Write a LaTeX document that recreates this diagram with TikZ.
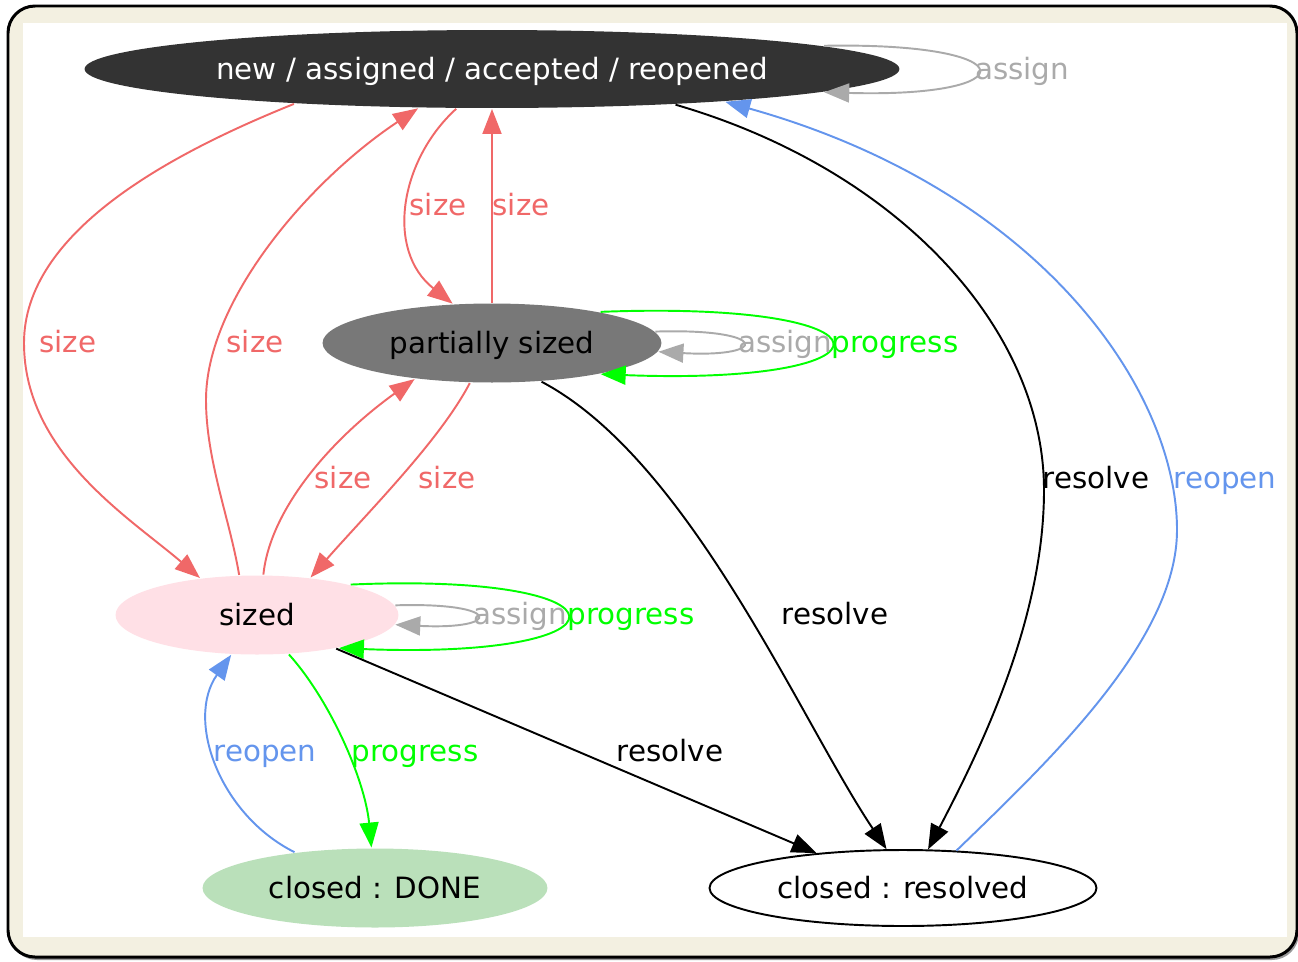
\documentclass[tikz,border=0pt]{standalone}
\usepackage{fontspec}
\setmainfont{DejaVu Sans}
\usetikzlibrary{shapes.geometric, arrows.meta}

\definecolor{framebeige}{RGB}{243,240,225}
\definecolor{sizered}{RGB}{240,104,104}
\definecolor{assigngrey}{RGB}{170,170,170}
\definecolor{progressgreen}{RGB}{0,255,0}
\definecolor{reopenblue}{RGB}{100,149,237}
\definecolor{sizedpink}{RGB}{255,224,230}
\definecolor{donegreen}{RGB}{186,224,186}

\begin{document}
\begin{tikzpicture}[x=0.02cm, y=-0.02cm, line width=1.1pt,
    font=\fontsize{16.7}{20}\selectfont,
    state/.style={ellipse, inner sep=0pt, minimum height=1.58cm,
        text height=1.25em, text depth=0.05em},
    lbl/.style={anchor=base, inner sep=0pt},
    edge/.style={-{Triangle[length=0.5cm, width=0.38cm]}}]

    % ================= FRAME =================
    \useasboundingbox (0,0) rectangle (1298,961);
    \fill[white] (0,0) rectangle (1298,961);
    \fill[black!40, rounded corners=0.54cm] (10,9) rectangle (1299,960);
    \draw[line width=1.7pt, fill=framebeige, rounded corners=0.54cm] (8,6) rectangle (1297,957);
    \fill[white] (23,23) rectangle (1287,937);

    % ================= STATES =================
    \node[state, fill=black!80, text=white, minimum width=16.3cm, minimum height=1.56cm]
        (top) at (492,69) {new / assigned / accepted / reopened};
    \node[state, fill=black!53, minimum width=6.78cm] (partial) at (492,343) {partially sized};
    \node[state, fill=sizedpink, minimum width=5.66cm] (sized) at (257,615) {sized};
    \node[state, fill=donegreen, minimum width=6.9cm] (done) at (375,888) {closed : DONE};
    \node[state, draw=black, fill=white, minimum width=7.74cm, minimum height=1.52cm]
        (resolved) at (903,888) {closed : resolved};

    % ================= EDGES =================
    % --- size (red) ---
    \begin{scope}[sizered]
        \draw[edge] (top.190) .. controls (167,155) and (24,233) .. (24,343)
            .. controls (24,453) and (130,518) .. (sized.147);
        \draw[edge] (sized.114) .. controls (230,520) and (206,460) .. (206,400)
            .. controls (206,300) and (310,180) .. (top.208);
        \draw[edge] (top.228) .. controls (400,160) and (385,250) .. (partial.135);
        \draw[edge] (partial.90) -- (top.270);
        \draw[edge] (sized.81) .. controls (270,510) and (330,440) .. (partial.205);
        \draw[edge] (partial.241) .. controls (440,440) and (370,510) .. (sized.35);
    \end{scope}

    % --- assign (grey self loops) ---
    \begin{scope}[assigngrey]
        \draw[edge] (top.4) .. controls (1028,42) and (1028,98) .. (top.356);
        \draw[edge] (partial.4) .. controls (770,328) and (770,358) .. (partial.357);
        \draw[edge] (sized.4) .. controls (503,602) and (503,630) .. (sized.356);
    \end{scope}

    % --- progress (green) ---
    \begin{scope}[progressgreen]
        \draw[edge] (partial.16) .. controls (907,300) and (907,386) .. (partial.344);
        \draw[edge] (sized.18) .. controls (640,572) and (640,660) .. (sized.338);
        \draw[edge] (sized.309) .. controls (330,700) and (365,780) .. (done.95);
    \end{scope}

    % --- reopen (blue) ---
    \begin{scope}[reopenblue]
        \draw[edge] (done.156) .. controls (220,815) and (185,720) .. (sized.237);
        \draw[edge] (resolved.35) .. controls (1050,760) and (1177,640) .. (1177,530)
            .. controls (1177,390) and (1040,190) .. (top.352);
    \end{scope}

    % --- resolve (black) ---
    \draw[edge] (sized.337) -- (resolved.158);
    \draw[edge] (partial.322) .. controls (690,460) and (800,720) .. (resolved.113);
    \draw[edge] (top.349) .. controls (900,170) and (1044,330) .. (1044,490)
        .. controls (1044,620) and (980,750) .. (resolved.57);

    % ================= LABELS =================
    \node[lbl, assigngrey] (l_assign_top) at (1022,79) {assign};
    \node[lbl, sizered] (l_size_a) at (68,352) {size};
    \node[lbl, sizered] (l_size_b) at (255,352) {size};
    \node[lbl, sizered] (l_size_c) at (438,215) {size};
    \node[lbl, sizered] (l_size_d) at (521,215) {size};
    \node[lbl, sizered] (l_size_e) at (343,488) {size};
    \node[lbl, sizered] (l_size_f) at (447,488) {size};
    \node[lbl, assigngrey] (l_assign_partial) at (785,352) {assign};
    \node[lbl, progressgreen] (l_progress_partial) at (895,352) {progress};
    \node[lbl, assigngrey] (l_assign_sized) at (520,624) {assign};
    \node[lbl, progressgreen] (l_progress_sized) at (631,624) {progress};
    \node[lbl, reopenblue] (l_reopen_done) at (265,761) {reopen};
    \node[lbl, progressgreen] (l_progress_done) at (415,761) {progress};
    \node[lbl] (l_resolve_sized) at (670,761) {resolve};
    \node[lbl] (l_resolve_partial) at (835,624) {resolve};
    \node[lbl] (l_resolve_top) at (1096,488) {resolve};
    \node[lbl, reopenblue] (l_reopen_resolved) at (1225,488) {reopen};

\end{tikzpicture}
\end{document}
